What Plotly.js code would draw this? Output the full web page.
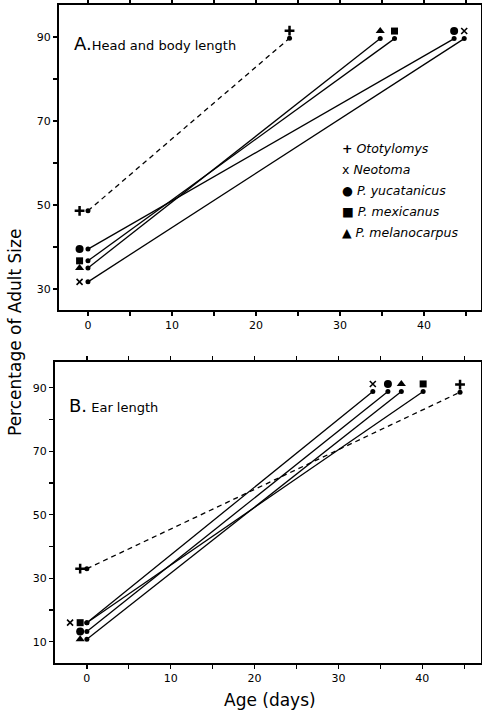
<!DOCTYPE html>
<html><head><meta charset="utf-8">
<script src="https://cdn.plot.ly/plotly-3.0.1.min.js"></script>
<style>html,body{margin:0;padding:0;background:#fff;} #chart{width:482px;height:716px;}</style>
</head><body><div id="chart"></div>
<script>
// ---- data ----
const species = ['Ototylomys', 'Neotoma', 'P. yucatanicus', 'P. mexicanus', 'P. melanocarpus'];
const birthDay = 0;
// A. Head and body length
const headStartPct = [48.6, 31.7, 39.5, 36.7, 35.0];
const headEndDay   = [24.0, 44.8, 43.6, 36.5, 34.8];
const headEndPct   = [89.7, 89.6, 89.6, 89.6, 89.6];
// B. Ear length
const earStartPct  = [33.0, 16.0, 13.2, 16.0, 10.8];
const earEndDay    = [44.5, 34.1, 35.9, 40.1, 37.5];
const earEndPct    = [88.6, 88.8, 88.8, 88.8, 88.8];
// ticks
const xTickVals = [0, 5, 10, 15, 20, 25, 30, 35, 40, 45];
const xTickText = ['0', '', '10', '', '20', '', '30', '', '40', ''];
const headYTickVals = [30, 40, 50, 60, 70, 80, 90];
const headYTickText = ['30', '', '50', '', '70', '', '90'];
const earYTickVals = [10, 20, 30, 40, 50, 60, 70, 80, 90];
const earYTickText = ['10', '', '30', '', '50', '', '70', '', '90'];

// ---- styles ----
const FONT = 'DejaVu Sans, sans-serif';
const symbolStyle = [
  {symbol: 'cross-thin', size: 7, line: {width: 2.5, color: '#000'}},
  {symbol: 'x-thin', size: 6, line: {width: 1.6, color: '#000'}},
  {symbol: 'circle', size: 8, line: {width: 0, color: '#000'}},
  {symbol: 'square', size: 7, line: {width: 0, color: '#000'}},
  {symbol: 'triangle-up', size: 8, line: {width: 0, color: '#000'}}
];
const legendGlyphs = ['<b>+</b>', 'x', '●', '■', '▲'];
const dashes = ['5px,4px', 'solid', 'solid', 'solid', 'solid'];

function panelTraces(startPct, endDay, endPct, xa, ya, lift, leftOffset, dupOffset) {
  const tr = [];
  species.forEach((sp, i) => {
    tr.push({
      x: [birthDay, endDay[i]], y: [startPct[i], endPct[i]],
      xaxis: xa, yaxis: ya, mode: 'lines+markers', showlegend: false, hoverinfo: 'skip',
      line: {color: '#000', width: 1.3, dash: dashes[i]},
      marker: {color: '#000', size: 5, symbol: 'circle'}
    });
    // identifying symbols: left of the birth point and above the end point
    const dup = startPct.some((v, j) => j > i && v === startPct[i]);
    tr.push({
      x: [birthDay + leftOffset + (dup ? dupOffset : 0), endDay[i]],
      y: [startPct[i], endPct[i] + lift],
      xaxis: xa, yaxis: ya, mode: 'markers', showlegend: false, hoverinfo: 'skip',
      marker: Object.assign({color: '#000'}, symbolStyle[i])
    });
  });
  return tr;
}

const data = [].concat(
  panelTraces(headStartPct, headEndDay, headEndPct, 'x', 'y', 1.8, -1.0, 0),
  panelTraces(earStartPct, earEndDay, earEndPct, 'x2', 'y2', 2.4, -0.8, -1.2)
);

const axBase = {
  showline: true, linewidth: 2, linecolor: '#000', mirror: 'allticks',
  ticks: 'outside', ticklen: 4, tickwidth: 1.3, tickcolor: '#000',
  showgrid: false, zeroline: false, fixedrange: true,
  tickfont: {family: FONT, size: 11, color: '#000'}
};
const inBase = {
  showline: false, ticks: 'inside', ticklen: 4, tickwidth: 1.3, tickcolor: '#000',
  showgrid: false, zeroline: false, showticklabels: false, fixedrange: true
};
const topX = [-3.45, 46.8], topY = [25, 97.6];
const botX = [-3.8, 47.0], botY = [3.3, 98.1];
const topDomX = [0.0094, 1], topDomY = [0.5365, 1];
const botDomX = [0, 1], botDomY = [0, 0.4574];

const legendAnns = species.map((sp, i) => ({
  xref: 'x domain', yref: 'y domain', x: 0.665, y: 0.531 - i * 0.0695,
  xanchor: 'left', yanchor: 'middle', showarrow: false,
  text: legendGlyphs[i] + ' <i>' + sp + '</i>',
  font: {family: FONT, size: 12.5, color: '#000'}
}));

const layout = {
  width: 482, height: 716,
  margin: {l: 55, r: 1, t: 5, b: 53},
  paper_bgcolor: '#fff', plot_bgcolor: '#fff',
  showlegend: false,
  xaxis: Object.assign({}, axBase, {domain: topDomX, anchor: 'y', range: topX, tickmode: 'array', tickvals: xTickVals, ticktext: xTickText}),
  yaxis: Object.assign({}, axBase, {domain: topDomY, anchor: 'x', range: topY, tickmode: 'array', tickvals: headYTickVals, ticktext: headYTickText}),
  xaxis2: Object.assign({}, axBase, {domain: botDomX, anchor: 'y2', range: botX, tickmode: 'array', tickvals: xTickVals, ticktext: xTickText}),
  yaxis2: Object.assign({}, axBase, {domain: botDomY, anchor: 'x2', range: botY, tickmode: 'array', tickvals: earYTickVals, ticktext: earYTickText}),
  xaxis3: Object.assign({}, inBase, {overlaying: 'x', anchor: 'y', range: topX, tickmode: 'array', tickvals: xTickVals}),
  yaxis3: Object.assign({}, inBase, {overlaying: 'y', anchor: 'x', range: topY, tickmode: 'array', tickvals: headYTickVals}),
  xaxis4: Object.assign({}, inBase, {overlaying: 'x2', anchor: 'y2', range: botX, tickmode: 'array', tickvals: xTickVals}),
  yaxis4: Object.assign({}, inBase, {overlaying: 'y2', anchor: 'x2', range: botY, tickmode: 'array', tickvals: earYTickVals}),
  annotations: [
    {xref: 'x domain', yref: 'y domain', x: 0.031, y: 0.875, xanchor: 'left', yanchor: 'middle', showarrow: false,
     text: '<span style="font-size:18px">A.</span>Head and body length', font: {family: FONT, size: 13, color: '#000'}},
    {xref: 'x2 domain', yref: 'y2 domain', x: 0.028, y: 0.857, xanchor: 'left', yanchor: 'middle', showarrow: false,
     text: '<span style="font-size:18px">B.</span> Ear length', font: {family: FONT, size: 13, color: '#000'}},
    {xref: 'paper', yref: 'paper', x: -0.094, y: 0.503, xanchor: 'center', yanchor: 'middle', showarrow: false, textangle: -90,
     text: 'Percentage of Adult Size', font: {family: FONT, size: 17, color: '#000'}},
    {xref: 'paper', yref: 'paper', x: 0.505, y: -0.056, xanchor: 'center', yanchor: 'middle', showarrow: false,
     text: 'Age (days)', font: {family: FONT, size: 17, color: '#000'}}
  ].concat(legendAnns)
};

Plotly.newPlot('chart', data, layout, {staticPlot: true, displayModeBar: false});
</script>
</body></html>
